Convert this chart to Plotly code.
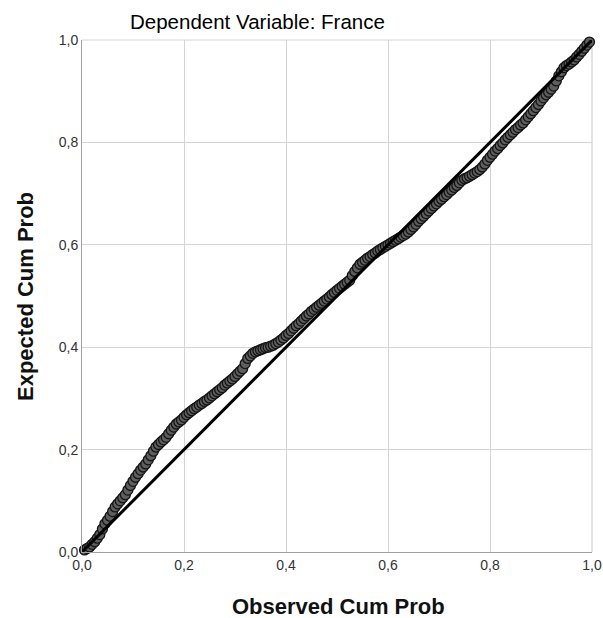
import plotly.graph_objects as go

# Observed cumulative probability (x) and expected cumulative probability (y)
observed = [0.005, 0.010, 0.015, 0.020, 0.025, 0.030, 0.035, 0.040, 0.045, 0.050,
            0.055, 0.060, 0.065, 0.070, 0.075, 0.080, 0.085, 0.090, 0.095, 0.100,
            0.105, 0.110, 0.115, 0.120, 0.125, 0.130, 0.135, 0.140, 0.145, 0.150,
            0.155, 0.160, 0.165, 0.170, 0.175, 0.180, 0.185, 0.190, 0.195, 0.200,
            0.205, 0.210, 0.215, 0.220, 0.225, 0.230, 0.235, 0.240, 0.245, 0.250,
            0.255, 0.260, 0.265, 0.270, 0.275, 0.280, 0.285, 0.290, 0.295, 0.300,
            0.305, 0.310, 0.315, 0.320, 0.325, 0.330, 0.335, 0.340, 0.345, 0.350,
            0.355, 0.360, 0.365, 0.370, 0.375, 0.380, 0.385, 0.390, 0.395, 0.400,
            0.405, 0.410, 0.415, 0.420, 0.425, 0.430, 0.435, 0.440, 0.445, 0.450,
            0.455, 0.460, 0.465, 0.470, 0.475, 0.480, 0.485, 0.490, 0.495, 0.500,
            0.505, 0.510, 0.515, 0.520, 0.525, 0.530, 0.535, 0.540, 0.545, 0.550,
            0.555, 0.560, 0.565, 0.570, 0.575, 0.580, 0.585, 0.590, 0.595, 0.600,
            0.605, 0.610, 0.615, 0.620, 0.625, 0.630, 0.635, 0.640, 0.645, 0.650,
            0.655, 0.660, 0.665, 0.670, 0.675, 0.680, 0.685, 0.690, 0.695, 0.700,
            0.705, 0.710, 0.715, 0.720, 0.725, 0.730, 0.735, 0.740, 0.745, 0.750,
            0.755, 0.760, 0.765, 0.770, 0.775, 0.780, 0.785, 0.790, 0.795, 0.800,
            0.805, 0.810, 0.815, 0.820, 0.825, 0.830, 0.835, 0.840, 0.845, 0.850,
            0.855, 0.860, 0.865, 0.870, 0.875, 0.880, 0.885, 0.890, 0.895, 0.900,
            0.905, 0.910, 0.915, 0.920, 0.925, 0.930, 0.935, 0.940, 0.945, 0.950,
            0.955, 0.960, 0.965, 0.970, 0.975, 0.980, 0.985, 0.990, 0.995]
expected = [0.004, 0.007, 0.010, 0.015, 0.020, 0.027, 0.034, 0.045, 0.055, 0.062,
            0.070, 0.079, 0.088, 0.094, 0.100, 0.106, 0.112, 0.121, 0.130, 0.138,
            0.146, 0.153, 0.160, 0.166, 0.172, 0.180, 0.188, 0.197, 0.205, 0.210,
            0.215, 0.219, 0.224, 0.231, 0.238, 0.244, 0.250, 0.254, 0.258, 0.263,
            0.268, 0.272, 0.276, 0.280, 0.283, 0.287, 0.290, 0.294, 0.297, 0.301,
            0.305, 0.309, 0.313, 0.317, 0.321, 0.326, 0.330, 0.334, 0.338, 0.343,
            0.348, 0.353, 0.358, 0.368, 0.378, 0.383, 0.388, 0.391, 0.393, 0.395,
            0.397, 0.399, 0.400, 0.402, 0.404, 0.407, 0.410, 0.414, 0.418, 0.423,
            0.427, 0.432, 0.437, 0.442, 0.446, 0.451, 0.456, 0.461, 0.465, 0.470,
            0.474, 0.478, 0.482, 0.486, 0.490, 0.494, 0.498, 0.503, 0.507, 0.511,
            0.515, 0.519, 0.523, 0.527, 0.531, 0.540, 0.548, 0.555, 0.562, 0.566,
            0.570, 0.574, 0.577, 0.581, 0.584, 0.588, 0.591, 0.594, 0.597, 0.600,
            0.603, 0.606, 0.609, 0.612, 0.615, 0.618, 0.621, 0.625, 0.630, 0.635,
            0.640, 0.646, 0.651, 0.656, 0.661, 0.666, 0.671, 0.676, 0.680, 0.685,
            0.689, 0.694, 0.698, 0.703, 0.707, 0.712, 0.716, 0.721, 0.726, 0.729,
            0.731, 0.734, 0.737, 0.740, 0.743, 0.747, 0.752, 0.758, 0.765, 0.771,
            0.777, 0.783, 0.788, 0.794, 0.799, 0.805, 0.810, 0.815, 0.820, 0.825,
            0.829, 0.834, 0.838, 0.844, 0.850, 0.856, 0.862, 0.868, 0.874, 0.881,
            0.887, 0.893, 0.898, 0.904, 0.910, 0.920, 0.930, 0.938, 0.946, 0.950,
            0.953, 0.957, 0.961, 0.967, 0.972, 0.978, 0.984, 0.990, 0.996]
ref_line = [0.0, 1.0]
tick_vals = [0.0, 0.2, 0.4, 0.6, 0.8, 1.0]

W, H = 603, 618
L, R, T, B = 82, 11, 40, 66
pw, ph = W - L - R, H - T - B

fig = go.Figure()
fig.add_trace(go.Scatter(x=observed, y=expected, mode="markers",
                         marker=dict(size=10, color="#5e5e5e",
                                     line=dict(color="#141414", width=1.3)),
                         cliponaxis=False, showlegend=False))
fig.add_trace(go.Scatter(x=ref_line, y=ref_line, mode="lines",
                         line=dict(color="#000000", width=3),
                         cliponaxis=False, showlegend=False))

font_family = "Liberation Sans, Arial, sans-serif"
axis_common = dict(range=[0, 1], tickvals=tick_vals, tickformat=".1f",
                   showgrid=True, gridcolor="#d4d4d4", gridwidth=1,
                   zeroline=False, showline=True, linecolor="#a0a0a0", linewidth=1,
                   ticks="", tickfont=dict(family=font_family, size=14, color="#333333"),
                   fixedrange=True, automargin=False)
fig.update_layout(
    width=W, height=H, autosize=False,
    margin=dict(l=L, r=R, t=T, b=B, pad=0, autoexpand=False),
    paper_bgcolor="white", plot_bgcolor="white",
    separators=", ",
    xaxis=dict(**axis_common, mirror=False),
    yaxis=dict(**axis_common, mirror=False),
    showlegend=False,
    annotations=[
        dict(text="Dependent Variable: France", xref="paper", yref="paper",
             x=(257 - L) / pw, y=1 + (T - 21) / ph, xanchor="center", yanchor="middle",
             showarrow=False, font=dict(family=font_family, size=20.5, color="#000000")),
        dict(text="<b>Observed Cum Prob</b>", xref="paper", yref="paper",
             x=(338 - L) / pw, y=-(606 - (T + ph)) / ph, xanchor="center", yanchor="middle",
             showarrow=False, font=dict(family=font_family, size=22, color="#111111")),
        dict(text="<b>Expected Cum Prob</b>", xref="paper", yref="paper",
             x=(25 - L) / pw, y=(T + ph - 297) / ph, xanchor="center", yanchor="middle",
             textangle=-90,
             showarrow=False, font=dict(family=font_family, size=22, color="#111111")),
    ],
)
# light frame on top and right
fig.add_shape(type="line", xref="paper", yref="paper", x0=0, x1=1, y0=1, y1=1,
              line=dict(color="#d4d4d4", width=1), layer="below")
fig.add_shape(type="line", xref="paper", yref="paper", x0=1, x1=1, y0=0, y1=1,
              line=dict(color="#c8c8c8", width=1), layer="below")

fig.write_html("out.html",
               config={"displayModeBar": False},
               post_script="document.body.style.margin='0';"
                           "document.body.style.overflow='hidden';")
